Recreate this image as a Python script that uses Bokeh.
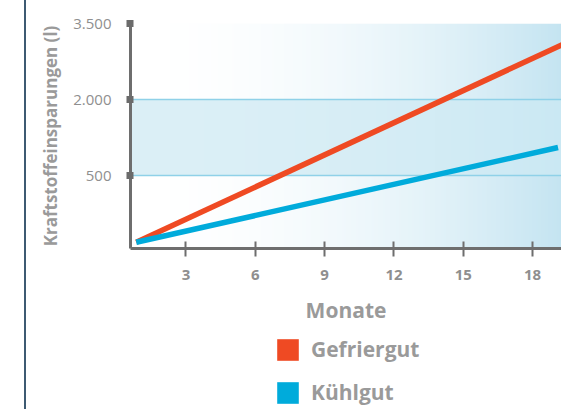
import numpy as np
from bokeh.plotting import figure
from bokeh.models import Range1d, FixedTicker, Legend, LegendItem, Div
from bokeh.layouts import row, column
from bokeh.embed import file_html
from bokeh.resources import INLINE

# ---- data ----
gefriergut_monate = [0.85, 19.5]
gefriergut_liter = [-805, 3130]
kuehlgut_monate = [0.85, 19.1]
kuehlgut_liter = [-805, 1059]
x_ticks = [3, 6, 9, 12, 15, 18]
y_ticks = [500, 2000, 3500]
y_tick_labels = ["500", "2.000", "3.500"]
series_names = ["Gefriergut", "Kühlgut"]
series_colors = ["#ef4a23", "#00abdb"]

X0, X1 = 0.6, 19.25
Y0, Y1 = -929, 3500

FONT = "Open Sans"
TXT = "#9a9a9a"
AX = "#6e6e6e"

P_H = 333
p = figure(width=535, height=P_H,
           x_range=Range1d(X0, X1), y_range=Range1d(Y0, Y1),
           output_backend="svg", toolbar_location=None,
           min_border_left=104, min_border_right=0, min_border_top=23,
           min_border_bottom=P_H - 23 - 225, outline_line_color=None,
           background_fill_color="white", border_fill_color="white")

# background bands with horizontal gradient
ny, nx = 886, 240
ys = Y0 + (np.arange(ny) + 0.5) * (Y1 - Y0) / ny
t = (np.arange(nx) + 0.5) / nx
f = t ** 2
white = np.array([255, 255, 255.0])
edge = np.array([196, 228, 241.0])
mid0 = np.array([219, 239, 246.0])
mid1 = np.array([202, 232, 243.0])
grad = white[None, :] + (edge - white)[None, :] * f[:, None]
midg = mid0[None, :] + (mid1 - mid0)[None, :] * f[:, None]
in_mid = (ys >= y_ticks[0]) & (ys < y_ticks[1])
rgb = np.where(in_mid[:, None, None], midg[None, :, :], grad[None, :, :])
img = np.empty((ny, nx), dtype=np.uint32)
view = img.view(dtype=np.uint8).reshape((ny, nx, 4))
view[..., :3] = rgb.round().astype(np.uint8)
view[..., 3] = 255
p.image_rgba(image=[img], x=X0, y=Y0, dw=X1 - X0, dh=Y1 - Y0, level="image")

# grid
p.xgrid.visible = False
p.ygrid.ticker = FixedTicker(ticks=y_ticks)
p.ygrid.grid_line_color = "#8fd1e8"
p.ygrid.grid_line_width = 1.5

# data lines
p.line(gefriergut_monate, gefriergut_liter, line_color=series_colors[0], line_width=5.5)
p.line(kuehlgut_monate, kuehlgut_liter, line_color=series_colors[1], line_width=5.5)

# x axis
xa = p.xaxis[0]
xa.ticker = FixedTicker(ticks=x_ticks)
xa.axis_line_width = 3
xa.axis_line_color = AX
xa.major_tick_in = 7
xa.major_tick_out = 8
xa.major_tick_line_width = 2
xa.major_tick_line_color = AX
xa.minor_tick_line_color = None
xa.major_label_text_font = FONT
xa.major_label_text_font_size = "15px"
xa.major_label_text_font_style = "bold"
xa.major_label_text_color = "#8f8f8f"
xa.major_label_standoff = 13
xa.axis_label = "Monate"
xa.axis_label_text_font = FONT
xa.axis_label_text_font_size = "21px"
xa.axis_label_text_font_style = "bold"
xa.axis_label_text_color = TXT
xa.axis_label_standoff = 13

# y axis
ya = p.yaxis[0]
ya.ticker = FixedTicker(ticks=y_ticks)
ya.major_label_overrides = dict(zip(y_ticks, y_tick_labels))
ya.axis_line_width = 3
ya.axis_line_color = AX
ya.major_tick_in = 3
ya.major_tick_out = 4
ya.major_tick_line_width = 7
ya.major_tick_line_color = "#6b6b6b"
ya.minor_tick_line_color = None
ya.major_label_text_font = FONT
ya.major_label_text_font_size = "15px"
ya.major_label_text_color = "#8f8f8f"
ya.major_label_standoff = 15
ya.axis_label = "Kraftstoffeinsparungen (l)"
ya.axis_label_text_font = FONT
ya.axis_label_text_font_size = "17px"
ya.axis_label_text_font_style = "bold"
ya.axis_label_text_color = TXT
ya.axis_label_standoff = 8

# legend figure below the chart
L_H = 409 - P_H
lf = figure(width=535, height=L_H, output_backend="svg", toolbar_location=None,
            x_range=Range1d(0, 1), y_range=Range1d(0, 1),
            min_border=0, outline_line_color=None,
            background_fill_color="white", border_fill_color="white")
lf.axis.visible = False
lf.grid.visible = False
series_x = [gefriergut_monate, kuehlgut_monate]
series_y = [gefriergut_liter, kuehlgut_liter]
proxies = []
for c, sx, sy in zip(series_colors, series_x, series_y):
    r = lf.vbar(x=sx[:1], top=sy[:1], width=1, fill_color=c, line_color=None)
    r.visible = False
    proxies.append(r)

legend = Legend(items=[LegendItem(label=n, renderers=[r]) for n, r in zip(series_names, proxies)],
                location=(144, 3), orientation="vertical",
                glyph_width=27, glyph_height=27, label_standoff=10, spacing=15,
                padding=0, margin=0, border_line_color=None, background_fill_alpha=0,
                label_height=27, label_text_font=FONT, label_text_font_size="21px",
                label_text_font_style="bold", label_text_color=TXT)
lf.add_layout(legend, "center")

bar = Div(text="", width=2, height=409, margin=(0, 0, 0, 24),
          styles={"background-color": "#3d5a72"})
layout = row(bar, column(p, lf, spacing=0), spacing=0)

open("out.html", "w").write(file_html(layout, INLINE))
